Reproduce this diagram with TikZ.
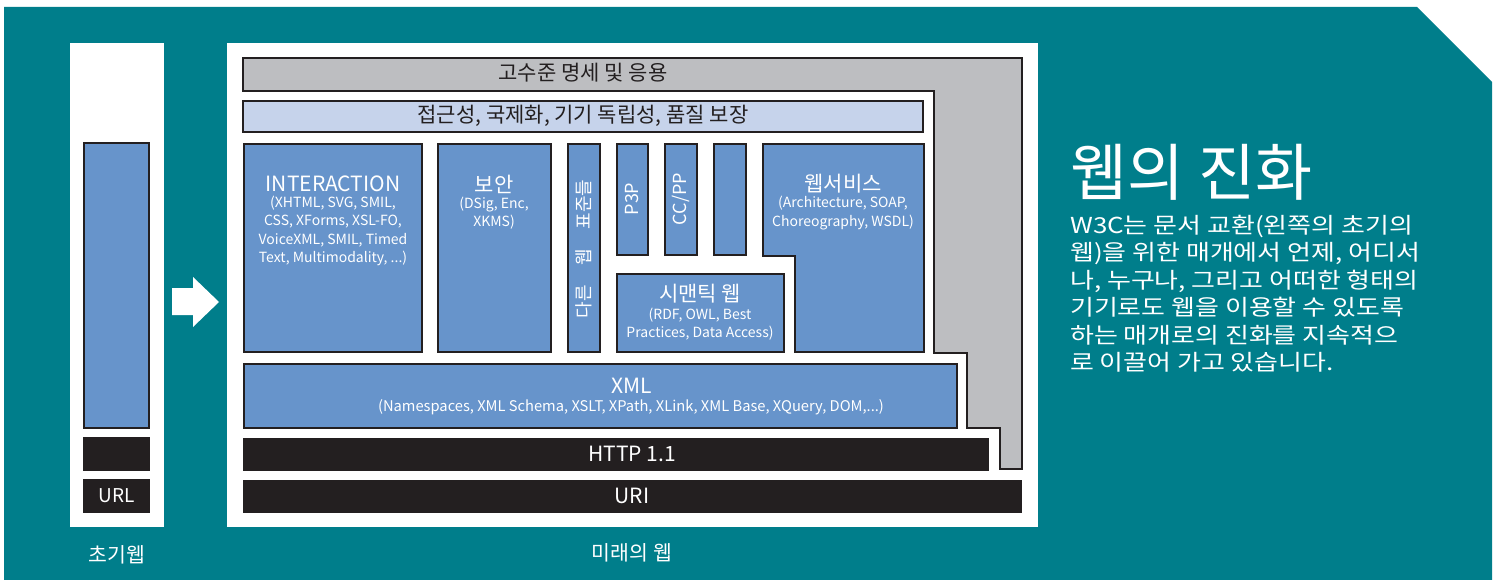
\documentclass[tikz,border=0pt]{standalone}
\usepackage{fontspec}
\setmainfont{Noto Sans CJK KR}
\newfontfamily\widekr[FakeStretch=1.18]{Noto Sans CJK KR}
\definecolor{tealbg}{HTML}{007E8B}
\definecolor{boxblue}{HTML}{6794CB}
\definecolor{lightblue}{HTML}{C6D3EB}
\definecolor{graybox}{HTML}{BDBEC1}
\definecolor{darkbox}{HTML}{231F20}
\tikzset{
  fs/.style={font=\fontsize{#1}{#1}\selectfont},
  bluebox/.style={fill=boxblue, draw=darkbox, line width=2.6pt},
  lbl/.style={text=white, align=center, inner sep=0pt},
  dlbl/.style={text=darkbox, align=center, inner sep=0pt},
  sub/.style={text=white, align=center, inner sep=0pt, font=\fontsize{14}{18.3}\selectfont},
}
\begin{document}
\begin{tikzpicture}[x=1pt,y=-1pt]
\useasboundingbox (0,0) rectangle (1506,580);
% background
\fill[tealbg] (4,7) -- (1417,7) -- (1492,82) -- (1492,580) -- (4,580) -- cycle;
% white panels
\fill[white] (70,43) rectangle (164,527);
\fill[white] (227,43) rectangle (1038,527);
% arrow
\fill[white] (172,288) -- (193,288) -- (193,277) -- (219,302) -- (193,327) -- (193,315) -- (172,315) -- cycle;
% left column
\draw[bluebox] (84,143) rectangle (149,428);
\fill[darkbox] (83,437) rectangle (150,471);
\fill[darkbox] (83,479) rectangle (150,513);
\node[lbl, fs=19] (url) at (117,496) {URL};
\node[lbl, fs=20.5] (early) at (117,555) {초기웹};
% gray L shape
\draw[fill=graybox, draw=darkbox, line width=2.4pt]
  (243,58) -- (1022,58) -- (1022,469) -- (1000,469) -- (1000,428) -- (967,428)
  -- (967,353) -- (934,353) -- (934,91) -- (243,91) -- cycle;
\node[dlbl, fs=21] (high) at (583,73) {고수준 명세 및 응용};
% accessibility bar
\draw[fill=lightblue, draw=darkbox, line width=2.6pt] (243,101) rectangle (923,132);
\node[dlbl, fs=21] (access) at (583,116) {접근성, 국제화, 기기 독립성, 품질 보장};
% interaction
\draw[bluebox] (244,144) rectangle (422,352);
\node[lbl, fs=21] (inter) at (333,184) {INTERACTION};
\node[sub] (intersub) at (333,231) {(XHTML, SVG, SMIL,\\CSS, XForms, XSL-FO,\\VoiceXML, SMIL, Timed\\Text, Multimodality, ...)};
% security
\draw[bluebox] (438,144) rectangle (551,352);
\node[lbl, fs=21] (sec) at (494,184) {보안};
\node[sub] (secsub) at (494,213) {(DSig, Enc,\\XKMS)};
% other web standards
\draw[bluebox] (568,144) rectangle (600,352);
\node[lbl, fs=18, rotate=90] (other) at (584,249) {다른\hspace{1.1em}웹\hspace{1.1em}표준들};
% P3P, CC/PP, empty
\draw[bluebox] (617,144) rectangle (648,255);
\node[lbl, fs=18, rotate=90] (p3p) at (632,199) {P3P};
\draw[bluebox] (665,144) rectangle (697,255);
\node[lbl, fs=18, rotate=90] (ccpp) at (681,199) {CC/PP};
\draw[bluebox] (714,144) rectangle (746,255);
% web services
\draw[bluebox] (763,144) -- (924,144) -- (924,352) -- (795,352) -- (795,256) -- (763,256) -- cycle;
\node[lbl, fs=21] (ws) at (843,184) {웹서비스};
\node[sub] (wssub) at (843,213) {(Architecture, SOAP,\\Choreography, WSDL)};
% semantic web
\draw[bluebox] (617,274) rectangle (784,352);
\node[lbl, fs=21] (sem) at (700,294) {시맨틱 웹};
\node[sub] (semsub) at (700,324) {(RDF, OWL, Best\\Practices, Data Access)};
% XML
\draw[bluebox] (244,364) rectangle (957,428);
\node[lbl, fs=21] (xml) at (632,386) {XML};
\node[sub, font=\fontsize{14.7}{18}\selectfont] (xmlsub) at (631,407) {(Namespaces, XML Schema, XSLT, XPath, XLink, XML Base, XQuery, DOM,...)};
% HTTP, URI
\fill[darkbox] (243,438) rectangle (989,471);
\node[lbl, fs=21] (http) at (632,454) {HTTP 1.1};
\fill[darkbox] (243,480) rectangle (1022,513);
\node[lbl, fs=21] (uri) at (632,496) {URI};
\node[lbl, fs=20.5] (future) at (632,553) {미래의 웹};
% right text
\node[text=white, anchor=west, inner sep=0pt, fs=62] (title) at (1070,172) {웹의 진화};
\node[text=white, anchor=north west, align=left, inner sep=0pt, font=\widekr\fontsize{22}{27.4}\selectfont] (para) at (1070,215)
 {W3C는 문서 교환(왼쪽의 초기의\\웹)을 위한 매개에서 언제, 어디서\\나, 누구나, 그리고 어떠한 형태의\\기기로도 웹을 이용할 수 있도록\\하는 매개로의 진화를 지속적으\\로 이끌어 가고 있습니다.};
\end{tikzpicture}
\end{document}
